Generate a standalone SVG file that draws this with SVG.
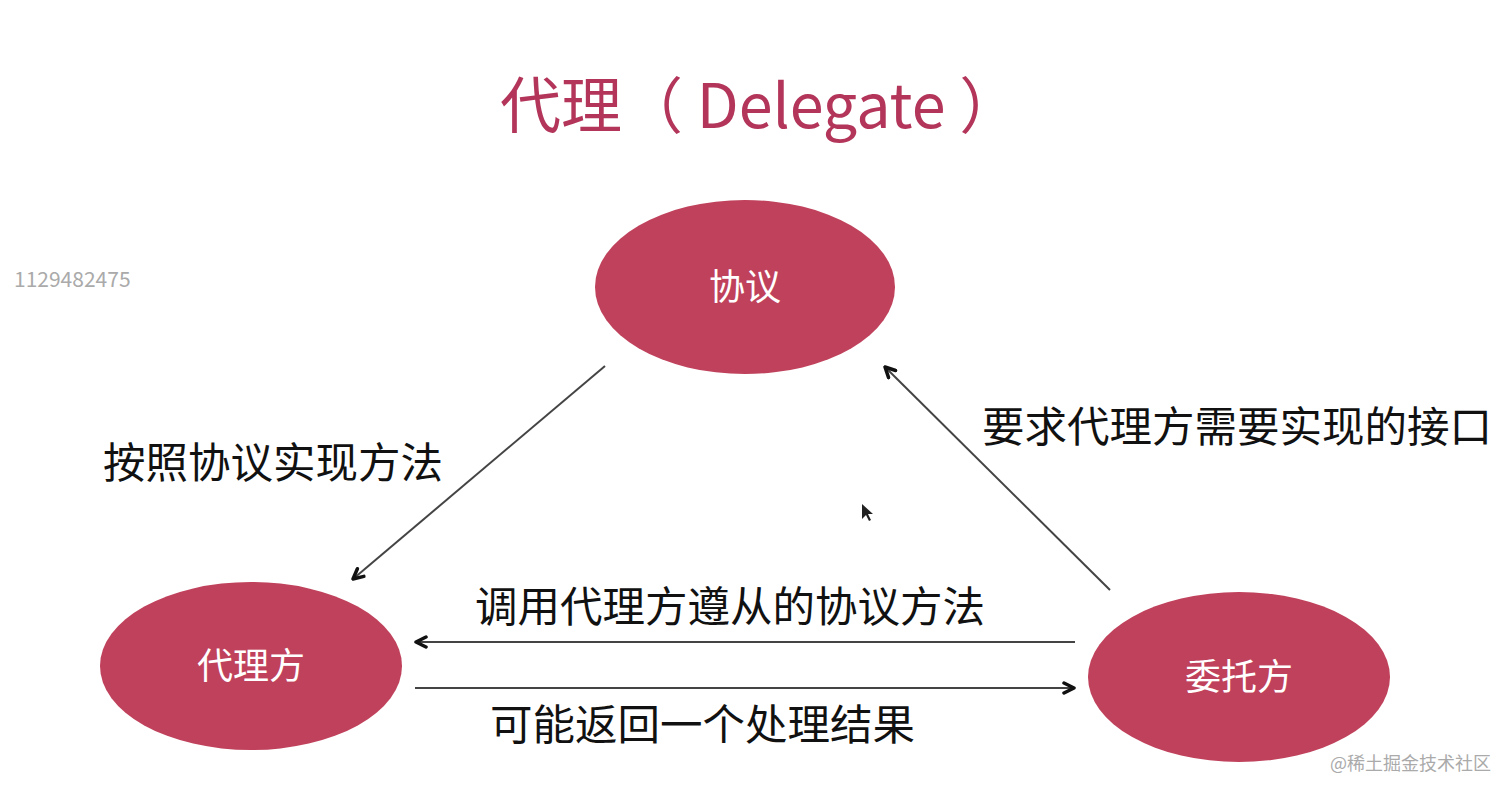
<svg xmlns="http://www.w3.org/2000/svg" width="1512" height="793" viewBox="0 0 1512 793">
<defs>
<marker id="ah" viewBox="0 0 14 14" refX="12" refY="7" markerWidth="14" markerHeight="14" markerUnits="userSpaceOnUse" orient="auto">
<path d="M2,2 L12,7 L2,12" fill="none" stroke="#111" stroke-width="3.5" stroke-linecap="round" stroke-linejoin="round"/>
</marker>
<style>
.node{fill:#c0415b}
.nt{fill:#fff;font-family:"Noto Sans CJK SC",sans-serif;font-size:36px;text-anchor:middle}
.lbl{fill:#111;font-family:"Noto Sans CJK SC",sans-serif;font-size:42.5px}
.con{stroke:#444;stroke-width:2;fill:none;marker-end:url(#ah)}
.gray{fill:#aaa;font-family:"Noto Sans CJK SC",sans-serif}
</style>
</defs>
<rect width="1512" height="793" fill="#fff"/>
<text x="500" y="128" fill="#b3355a" font-family="Noto Sans CJK SC, sans-serif" font-size="61">代理（ Delegate ）</text>
<text class="gray" x="14" y="287" font-size="21">1129482475</text>
<text class="gray" x="1330" y="770" font-size="18">@稀土掘金技术社区</text>
<g id="protocol">
<ellipse class="node" cx="745" cy="287" rx="150" ry="87"/>
<text class="nt" x="745" y="300">协议</text>
</g>
<g id="delegate">
<ellipse class="node" cx="251" cy="666" rx="151" ry="84"/>
<text class="nt" x="251" y="679">代理方</text>
</g>
<g id="delegator">
<ellipse class="node" cx="1239" cy="677" rx="151" ry="85"/>
<text class="nt" x="1239" y="690">委托方</text>
</g>
<g id="connectors">
<line class="con" x1="605" y1="366" x2="353" y2="579"/>
<line class="con" x1="1110" y1="590" x2="885" y2="367"/>
<line class="con" x1="1075" y1="642" x2="416" y2="642"/>
<line class="con" x1="415" y1="688" x2="1074" y2="688"/>
</g>
<g id="labels">
<text class="lbl" x="103" y="478">按照协议实现方法</text>
<text class="lbl" x="982" y="442">要求代理方需要实现的接口</text>
<text class="lbl" x="475" y="622">调用代理方遵从的协议方法</text>
<text class="lbl" x="490" y="740">可能返回一个处理结果</text>
</g>
<path d="M862,504 L862,519 L866,515 L869,521 L871,520 L868,514 L873,514 Z" fill="#222"/>
</svg>
